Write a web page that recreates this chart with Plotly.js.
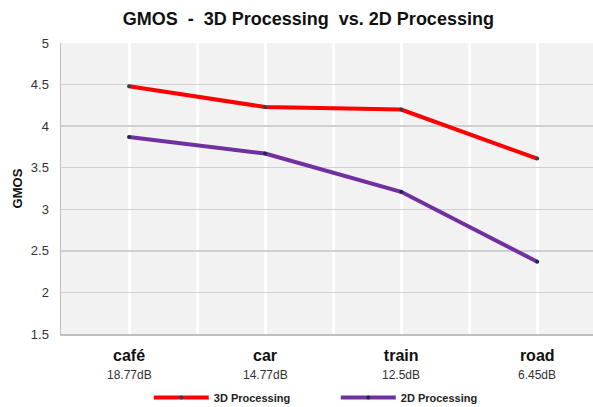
<!DOCTYPE html>
<html>
<head>
<meta charset="utf-8">
<script src="https://cdn.plot.ly/plotly-3.0.1.min.js"></script>
<style>html,body{margin:0;padding:0;overflow:hidden;background:#fff;}</style>
</head>
<body>
<div id="chart" style="width:593px;height:407px;"></div>
<script>
var categories = ["café", "car", "train", "road"];
var snrLabels = ["18.77dB", "14.77dB", "12.5dB", "6.45dB"];
var gmos3D = [4.48, 4.23, 4.20, 3.61];
var gmos2D = [3.87, 3.67, 3.21, 2.37];
var seriesNames = ["3D Processing", "2D Processing"];

var xPos = categories.map(function (c, i) { return i; });
var tickText = categories.map(function (c) { return "<b>" + c + "</b>"; });

var traces = [
  {x: xPos, y: gmos3D, name: seriesNames[0], type: "scatter", mode: "lines+markers",
   line: {color: "#ff0000", width: 4}, marker: {size: 4, color: "#1d4a5a"}},
  {x: xPos, y: gmos2D, name: seriesNames[1], type: "scatter", mode: "lines+markers",
   line: {color: "#7030a0", width: 4}, marker: {size: 4, color: "#1a2a4a"}}
];

var dbAnnotations = snrLabels.map(function (t, i) {
  return {x: xPos[i], xref: "x", y: -0.141, yref: "paper", text: t, showarrow: false,
          xanchor: "center", yanchor: "middle", font: {size: 12, color: "#333333"}};
});

var layout = {
  width: 593, height: 407,
  margin: {l: 61, r: 0, t: 43, b: 73, autoexpand: false},
  paper_bgcolor: "#ffffff",
  plot_bgcolor: "#f2f2f2",
  font: {family: "Liberation Sans, Arial, sans-serif", color: "#333333", size: 13},
  title: {text: "<b>GMOS\u00a0 -\u00a0 3D Processing\u00a0 vs. 2D Processing</b>",
          font: {size: 18, color: "#111111"}, x: 0.52, xanchor: "center", y: 0.955, yanchor: "middle"},
  showlegend: true,
  legend: {orientation: "h", x: 0.165, xanchor: "left", y: -0.218, yanchor: "middle",
           itemwidth: 55,
           font: {size: 11, color: "#222222", family: "Liberation Sans, Arial, sans-serif", weight: "bold"},
           entrywidth: 117, entrywidthmode: "pixels", bgcolor: "rgba(0,0,0,0)"},
  annotations: dbAnnotations,
  xaxis: {
    range: [-0.5, 3.41], tickvals: xPos, ticktext: tickText,
    showgrid: true, gridcolor: "#ffffff", gridwidth: 3,
    minor: {dtick: 0.5, tick0: 0, showgrid: true, gridcolor: "#ffffff", gridwidth: 3},
    showline: true, linecolor: "#bfbfbf", linewidth: 1.5,
    ticks: "", zeroline: false,
    tickfont: {size: 16, color: "#111111"}, ticklabelstandoff: 6
  },
  yaxis: {
    range: [1.5, 5], dtick: 0.5, tick0: 1.5,
    showgrid: true, gridcolor: "#d0d0d0", gridwidth: 1.5,
    showline: true, linecolor: "#bfbfbf", linewidth: 1.5, zeroline: false,
    ticks: "", tickfont: {size: 13, color: "#333333"}, ticklabelstandoff: 8,
    title: {text: "<b>GMOS</b>", font: {size: 13, color: "#111111"}, standoff: 5}
  }
};

Plotly.newPlot("chart", traces, layout, {displayModeBar: false, staticPlot: true});
</script>
</body>
</html>
